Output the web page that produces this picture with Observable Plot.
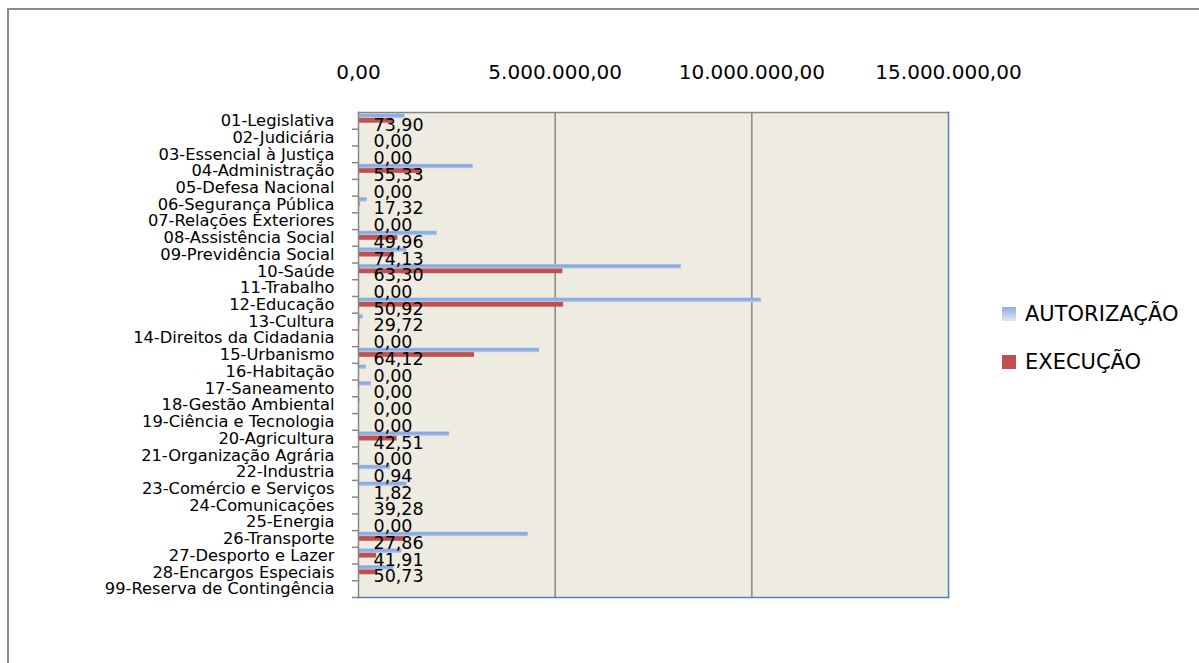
<!DOCTYPE html>
<html>
<head>
<meta charset="utf-8">
<script src="https://cdn.jsdelivr.net/npm/d3@7"></script>
<script src="https://cdn.jsdelivr.net/npm/@observablehq/plot@0.6"></script>
<style>
  html, body { margin: 0; padding: 0; background: #ffffff; overflow: hidden; }
  #wrap { position: relative; width: 1199px; height: 663px; font-family: "DejaVu Sans", sans-serif; }
  #outer { position: absolute; left: 7px; top: 8px; width: 1300px; height: 700px;
           border-left: 2px solid #8a8a8a; border-top: 2px solid #8a8a8a; }
  #chart { position: absolute; left: 0; top: 0; }
  .leg { position: absolute; left: 1002px; display: flex; align-items: center; font-size: 21px; color: #000; white-space: nowrap; }
  .sw { width: 14px; height: 14px; margin-right: 9px; }
</style>
</head>
<body>
<div id="wrap">
  <div id="outer"></div>
  <div id="chart"></div>
  <div class="leg" style="top:302px;"><span class="sw" style="background:linear-gradient(#90ade0,#dfe7f5);"></span>AUTORIZAÇÃO</div>
  <div class="leg" style="top:350px;"><span class="sw" style="background:#c0504d;"></span>EXECUÇÃO</div>
</div>
<script>
const categorias = [
  "01-Legislativa", "02-Judiciária", "03-Essencial à Justiça", "04-Administração",
  "05-Defesa Nacional", "06-Segurança Pública", "07-Relações Exteriores", "08-Assistência Social",
  "09-Previdência Social", "10-Saúde", "11-Trabalho", "12-Educação", "13-Cultura",
  "14-Direitos da Cidadania", "15-Urbanismo", "16-Habitação", "17-Saneamento",
  "18-Gestão Ambiental", "19-Ciência e Tecnologia", "20-Agricultura", "21-Organização Agrária",
  "22-Industria", "23-Comércio e Serviços", "24-Comunicações", "25-Energia", "26-Transporte",
  "27-Desporto e Lazer", "28-Encargos Especiais", "99-Reserva de Contingência"
];
const autorizacao = [
  1177000, 0, 0, 2916000, 0, 221000, 0, 2000000, 1230000, 8205000, 0, 10240000, 119000,
  0, 4602000, 196000, 323000, 43000, 0, 2314000, 0, 814000, 1238000, 12000, 0, 4314000,
  1100000, 899000, 0
];
const execucao = [
  870000, 0, 0, 1613000, 0, 38000, 0, 999000, 912000, 5194000, 0, 5214000, 35000,
  0, 2951000, 0, 0, 0, 0, 984000, 0, 7650, 22500, 4700, 0, 1202000,
  461000, 456000, 0
];
const percentual = [
  73.90, 0, 0, 55.33, 0, 17.32, 0, 49.96, 74.13, 63.30, 0, 50.92, 29.72,
  0, 64.12, 0, 0, 0, 0, 42.51, 0, 0.94, 1.82, 39.28, 0, 27.86,
  41.91, 50.73, null
];
const xTicks = [0, 5000000, 10000000, 15000000];

const loc = d3.formatLocale({decimal: ",", thousands: ".", grouping: [3], currency: ["R$", ""]});
const fmt = loc.format(",.2f");

const rows = categorias.map((c, i) => ({cat: c, aut: autorizacao[i], exe: execucao[i], pct: percentual[i]}));

const W = 1199, H = 663;
const mL = 358, mR = 251, mT = 112, mB = 66;
const bw = (H - mT - mB) / categorias.length;
const gray = "#868686";
const blue = "#4f81bd";

const svg = Plot.plot({
  width: W,
  height: H,
  marginLeft: mL,
  marginRight: mR,
  marginTop: mT,
  marginBottom: mB,
  style: {fontFamily: "DejaVu Sans", background: "transparent", color: "#000"},
  x: {domain: [0, 15000000], axis: null},
  y: {type: "band", domain: categorias, padding: 0, round: false, axis: null},
  marks: [
    Plot.frame({fill: "#eeece1", stroke: "none"}),
    Plot.ruleX(xTicks.slice(1, -1), {stroke: gray, strokeWidth: 1.5}),
    Plot.barX(rows, {x: "aut", y: "cat", fill: "url(#gradAut)", insetTop: 1.6, insetBottom: bw - 6.3}),
    Plot.barX(rows, {x: "exe", y: "cat", fill: "#c0504d", insetTop: 6.0, insetBottom: bw - 10.7}),
    Plot.frame({anchor: "top", stroke: gray, strokeWidth: 1.5}),
    Plot.frame({anchor: "left", stroke: gray, strokeWidth: 1.5}),
    Plot.frame({anchor: "right", stroke: blue, strokeWidth: 1.5}),
    Plot.frame({anchor: "bottom", stroke: blue, strokeWidth: 1.5}),
    Plot.ruleY(categorias, {y: d => d, x1: 0, x2: 0, dy: bw / 2, insetLeft: -6, stroke: gray, strokeWidth: 1.5}),
    Plot.axisX({anchor: "top", ticks: xTicks, tickFormat: fmt, tickSize: 0, tickPadding: 34, fontSize: 20, label: null}),
    Plot.axisY({anchor: "left", tickSize: 0, tickPadding: 24, fontSize: 16.3, label: null}),
    Plot.text(rows.filter(d => d.pct != null), {
      x: "pct", y: "cat", text: d => fmt(d.pct), textAnchor: "start", lineAnchor: "middle",
      dx: 15, dy: 4.3, fontSize: 17.5, fill: "#000"
    })
  ]
});

const defs = d3.create("svg:defs");
const g = defs.append("linearGradient").attr("id", "gradAut").attr("x1", 0).attr("y1", 0).attr("x2", 0).attr("y2", 1);
g.append("stop").attr("offset", "0%").attr("stop-color", "#a6bee9");
g.append("stop").attr("offset", "30%").attr("stop-color", "#86a6dd");
g.append("stop").attr("offset", "75%").attr("stop-color", "#9fb9e6");
g.append("stop").attr("offset", "100%").attr("stop-color", "#d3def3");
svg.insertBefore(defs.node(), svg.firstChild);

document.getElementById("chart").appendChild(svg);
</script>
</body>
</html>
